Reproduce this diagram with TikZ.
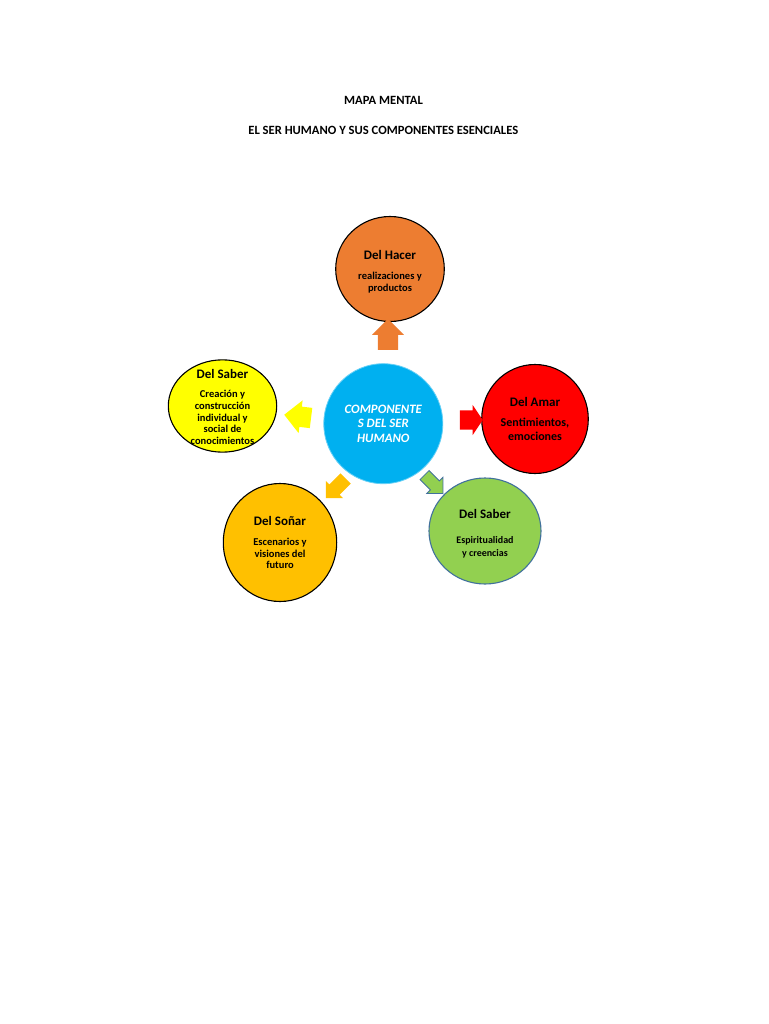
\documentclass[tikz,border=0pt]{standalone}
\usepackage{fontspec}
\setmainfont{Carlito}
\usetikzlibrary{shapes.geometric,shapes.arrows}
\definecolor{cOrange}{HTML}{ED7D31}
\definecolor{cRed}{HTML}{FF0000}
\definecolor{cGreen}{HTML}{92D050}
\definecolor{cGold}{HTML}{FFC000}
\definecolor{cYellow}{HTML}{FFFF00}
\definecolor{cBlue}{HTML}{00B0F0}
\definecolor{cEdge}{HTML}{41719C}
\begin{document}
\begin{tikzpicture}[x=1pt,y=1pt,
  bubble/.style={ellipse,draw=black,line width=1.1pt,inner sep=0pt},
  txt/.style={align=center,inner sep=0pt,font=\bfseries\fontsize{10.5}{11.7}\selectfont},
  ttl/.style={font=\bfseries\fontsize{12.6}{15}\selectfont,inner sep=0pt},
  barrow/.style={single arrow,draw=none,inner xsep=0pt,outer sep=0pt}
]
\fill[white] (0,0) rectangle (768,-1024);
\useasboundingbox (0,0) rectangle (768,-1024);

% titles
\node[ttl] (t1) at (383.5,-100) {MAPA MENTAL};
\node[ttl] (t2) at (383.3,-130) {EL SER HUMANO Y SUS COMPONENTES ESENCIALES};

% bubbles
\node[bubble,fill=cBlue,draw=cBlue!60!white,line width=0.8pt,minimum width=119pt,minimum height=120pt] (core) at (383.3,-423.7) {};
\node[bubble,fill=cOrange,minimum width=108.6pt,minimum height=105pt] (hacer) at (390,-269) {};
\node[bubble,fill=cRed,minimum width=106.6pt,minimum height=109pt] (amar) at (535,-419) {};
\node[bubble,fill=cGreen,draw=cEdge,minimum width=112pt,minimum height=106pt] (espiritu) at (485,-531) {};
\node[bubble,fill=cGold,minimum width=113.4pt,minimum height=118pt] (sonar) at (280,-542.5) {};
\node[bubble,fill=cYellow,minimum width=108.4pt,minimum height=92.3pt] (saber) at (222.5,-406) {};

% texts
\node[txt,text=white,font=\bfseries\itshape\fontsize{12.8}{14.5}\selectfont] (core-t) at (core) {COMPONENTE\\S DEL SER\\HUMANO};
\node[txt] (hacer-t) at ([yshift=-2.5pt]hacer.center) {{\fontsize{13}{13}\selectfont Del Hacer}\\[8.3pt]realizaciones y\\productos};
\node[txt,font=\bfseries\fontsize{12}{13.4}\selectfont] (amar-t) at (amar) {{\fontsize{13}{13}\selectfont Del Amar}\\[6.6pt]Sentimientos,\\emociones};
\node[txt,font=\bfseries\fontsize{10}{12.7}\selectfont] (espiritu-t) at ([yshift=-2.5pt]espiritu.center) {{\fontsize{13}{13}\selectfont Del Saber}\\[13pt]Espiritualidad\\y creencias};
\node[txt] (sonar-t) at (sonar) {{\fontsize{13}{13}\selectfont Del So\~nar}\\[8.3pt]Escenarios y\\visiones del\\futuro};
\node[txt] (saber-t) at ([yshift=-1pt]saber.center) {{\fontsize{13}{13}\selectfont Del Saber}\\[7.4pt]Creaci\'on y\\construcci\'on\\individual y\\social de\\conocimientos};

% block arrows (shaft width = 2*inner ysep, head width = shaft + 2*extend)
\node[barrow,fill=cOrange,minimum height=31pt,inner ysep=10pt,single arrow head extend=5.65pt,rotate=90] (a-hacer) at (388,-339.5) {};
\node[barrow,fill=cYellow,minimum height=27pt,inner ysep=10pt,single arrow head extend=6.3pt,rotate=173] (a-saber) at (302.7,-417) {};
\node[barrow,fill=cRed,minimum height=23pt,inner ysep=9.5pt,single arrow head extend=5.5pt,single arrow tip angle=112,rotate=0] (a-amar) at (468,-420) {};
\node[barrow,fill=cGreen,draw=cEdge,line width=0.8pt,minimum height=26pt,inner ysep=6pt,single arrow head extend=5pt,rotate=-45] (a-espiritu) at (431.5,-482) {};
\node[barrow,fill=cGold,minimum height=28pt,inner ysep=7pt,single arrow head extend=5pt,rotate=-135] (a-sonar) at (338.3,-485.8) {};
\end{tikzpicture}
\end{document}
